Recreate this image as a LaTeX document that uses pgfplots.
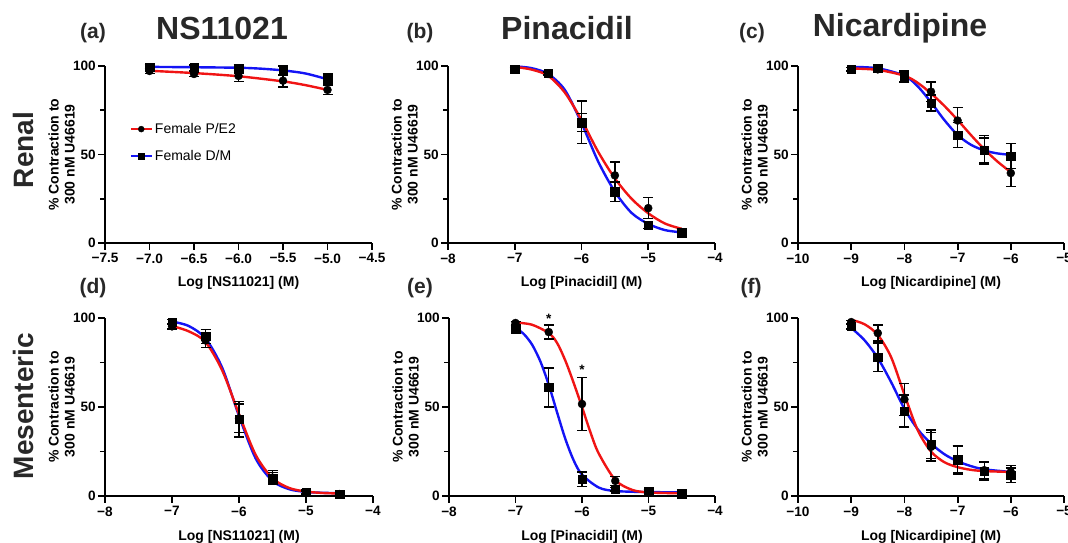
\documentclass[border=0pt]{standalone}
\usepackage{fontspec}
\setmainfont{Liberation Sans}
\usepackage{pgfplots}
\pgfplotsset{compat=1.18}

\definecolor{fitred}{RGB}{240,20,20}
\definecolor{fitblue}{RGB}{20,20,245}
\definecolor{ttl}{RGB}{40,40,40}

\newcommand{\tickfont}{\fontsize{13.6}{15}\selectfont\bfseries}
\newcommand{\labfont}{\fontsize{14}{16}\selectfont\bfseries}

\pgfplotsset{
  prism/.style={
    scale only axis, anchor=south west, clip=false,
    axis lines*=left,
    axis line style={line width=1.8pt},
    every tick/.style={black, line width=1.8pt},
    tick align=outside, major tick length=7pt, minor tick length=5pt,
    ymin=0, ymax=100, ytick={0,50,100}, minor ytick={25,75},
    yticklabels={0,50,100},
    ticklabel style={font=\tickfont},
    yticklabel style={inner sep=2pt},
    ylabel={\% Contraction to\\300 nM U46619},
    ylabel style={font=\labfont, align=center,
      at={(axis description cs:-0.1,0.5)}, anchor=south},
    xlabel style={font=\labfont, at={(axis description cs:0.5,-0.228)}, anchor=center},
  },
  redc/.style={forget plot, smooth, no marks, line width=2.4pt, color=fitred},
  bluec/.style={forget plot, smooth, no marks, line width=2.4pt, color=fitblue},
  circ/.style={forget plot, only marks, black, mark=*, mark size=4pt,
    error bars/.cd, y dir=both, y explicit,
    error bar style={line width=1.4pt, black},
    error mark options={rotate=90, black, mark size=5pt, line width=1.4pt}},
  sqr/.style={forget plot, only marks, black, mark=square*, mark size=4.2pt,
    error bars/.cd, y dir=both, y explicit,
    error bar style={line width=1.4pt, black},
    error mark options={rotate=90, black, mark size=5pt, line width=1.4pt}},
}

\begin{document}
\begin{tikzpicture}
\path[use as bounding box] (0pt,0pt) rectangle (1068pt,543pt);

% ---- titles and row labels
\node[font=\fontsize{21}{24}\selectfont\bfseries, text=ttl] at (93pt,510pt) {(a)};
\node[font=\fontsize{32}{36}\selectfont\bfseries, text=ttl] at (222pt,515pt) {NS11021};
\node[font=\fontsize{21}{24}\selectfont\bfseries, text=ttl] at (420pt,510pt) {(b)};
\node[font=\fontsize{32}{36}\selectfont\bfseries, text=ttl] at (567pt,515pt) {Pinacidil};
\node[font=\fontsize{21}{24}\selectfont\bfseries, text=ttl] at (752pt,510pt) {(c)};
\node[font=\fontsize{32}{36}\selectfont\bfseries, text=ttl] at (900pt,515pt) {Nicardipine};
\node[font=\fontsize{21}{24}\selectfont\bfseries, text=ttl] at (93pt,255pt) {(d)};
\node[font=\fontsize{21}{24}\selectfont\bfseries, text=ttl] at (420pt,255pt) {(e)};
\node[font=\fontsize{21}{24}\selectfont\bfseries, text=ttl] at (751pt,255pt) {(f)};
\node[rotate=90, font=\fontsize{28}{32}\selectfont\bfseries, text=ttl] at (23pt,393pt) {Renal};
\node[rotate=90, font=\fontsize{28}{32}\selectfont\bfseries, text=ttl] at (23pt,137pt) {Mesenteric};

% ---- (a) Renal, NS11021
\begin{axis}[prism, at={(105pt,300pt)}, width=267pt, height=177pt,
  xmin=-7.5, xmax=-4.5, xtick={-7.5,-7,-6.5,-6,-5.5,-5,-4.5},
  xticklabels={−7.5,−7.0,−6.5,−6.0,−5.5,−5.0,−4.5},
  xlabel={Log [NS11021] (M)},
  legend style={at={(axis description cs:0.08,0.70)}, anchor=north west,
    draw=none, fill=none, font=\fontsize{14}{16}\selectfont, row sep=11pt,
    cells={anchor=west}},
  legend image code/.code={\draw[mark repeat=2,mark phase=2,#1]
    plot coordinates {(0pt,0pt) (10.5pt,0pt) (21pt,0pt)};}]
\addlegendimage{fitred, line width=2.4pt, mark=*, mark options={black, fill=black, line width=0.4pt, mark size=3pt}}
\addlegendentry{Female P/E2}
\addlegendimage{fitblue, line width=2.4pt, mark=square*, mark options={black, fill=black, line width=0.4pt, mark size=3pt}}
\addlegendentry{Female D/M}
\addplot[bluec] coordinates {(-7,99.5) (-6.5,99.3) (-6,99) (-5.75,98.5) (-5.5,97.5) (-5.25,95.8) (-5,92.5)};
\addplot[redc] coordinates {(-7,97.3) (-6.5,96) (-6,94.2) (-5.5,91.3) (-5.25,89.2) (-5,86.5)};
\addplot[sqr] coordinates {(-7,99.4) +- (0,1.5) (-6.5,99.1) +- (0,1.5) (-6,98.5) +- (0,2) (-5.5,97.4) +- (0,2.5) (-5,92.5) +- (0,3)};
\addplot[circ] coordinates {(-7,97.2) +- (0,1.5) (-6.5,95.5) +- (0,1.5) (-6,94.4) +- (0,3) (-5.5,91.7) +- (0,3.5) (-5,86.5) +- (0,2.5)};
\end{axis}

% ---- (b) Renal, Pinacidil
\begin{axis}[prism, at={(448pt,300pt)}, width=267pt, height=177pt,
  xmin=-8, xmax=-4, xtick={-8,-7,-6,-5,-4},
  xticklabels={−8,−7,−6,−5,−4},
  xlabel={Log [Pinacidil] (M)}]
\addplot[bluec] coordinates {(-7,99.8) (-6.75,98.8) (-6.5,95.5) (-6.25,86.5) (-6,67.8) (-5.75,46) (-5.5,29) (-5.25,17) (-5,10.8) (-4.75,7.3) (-4.5,6)};
\addplot[redc] coordinates {(-7,99.5) (-6.75,98) (-6.5,94.5) (-6.25,85) (-6,69.5) (-5.75,51.5) (-5.5,36.5) (-5.25,25) (-5,16.8) (-4.75,11) (-4.5,8)};
\addplot[sqr] coordinates {(-7,98.3) +- (0,1) (-6.5,95.9) +- (0,1) (-6,68) +- (0,5) (-5.5,29) +- (0,5.5) (-5,10.2) +- (0,2) (-4.5,5.6) +- (0,2)};
\addplot[circ] coordinates {(-7,98.1) +- (0,1) (-6.5,95.5) +- (0,1) (-6,68.2) +- (0,12) (-5.5,38.2) +- (0,7.5) (-5,19.7) +- (0,6) (-4.5,6.2) +- (0,2)};
\end{axis}

% ---- (c) Renal, Nicardipine
\begin{axis}[prism, at={(798pt,300pt)}, width=266pt, height=177pt,
  xmin=-10, xmax=-5, xtick={-10,-9,-8,-7,-6,-5},
  xticklabels={−10,−9,−8,−7,−6,−5},
  xlabel={Log [Nicardipine] (M)}]
\addplot[bluec] coordinates {(-9,99.5) (-8.5,98.7) (-8,94.5) (-7.75,88.5) (-7.5,79.5) (-7.25,69.5) (-7,61) (-6.75,55.5) (-6.5,52.3) (-6.25,50.6) (-6,49.8)};
\addplot[redc] coordinates {(-9,98.6) (-8.5,97.8) (-8,94.5) (-7.75,90.5) (-7.5,84.5) (-7.25,77.5) (-7,69.5) (-6.75,61) (-6.5,53) (-6.25,46) (-6,40)};
\addplot[sqr] coordinates {(-9,98.3) +- (0,1) (-8.5,98.7) +- (0,1) (-8,94.4) +- (0,3) (-7.5,79) +- (0,4.5) (-7,61) +- (0,7) (-6.5,52.3) +- (0,7) (-6,49.2) +- (0,7)};
\addplot[circ] coordinates {(-9,98.1) +- (0,1) (-8.5,98.1) +- (0,1.5) (-8,93.6) +- (0,3) (-7.5,85.5) +- (0,5.5) (-7,69.2) +- (0,7.5) (-6.5,52.6) +- (0,8) (-6,39.5) +- (0,7.5)};
\end{axis}

% ---- (d) Mesenteric, NS11021
\begin{axis}[prism, at={(105pt,47pt)}, width=268pt, height=178pt,
  xmin=-8, xmax=-4, xtick={-8,-7,-6,-5,-4},
  xticklabels={−8,−7,−6,−5,−4},
  xlabel={Log [NS11021] (M)}]
\addplot[bluec] coordinates {(-7,98) (-6.75,95.5) (-6.5,88.5) (-6.25,72) (-6,45) (-5.75,21) (-5.5,8.5) (-5.25,3.8) (-5,2.3) (-4.75,1.8) (-4.5,1.6)};
\addplot[redc] coordinates {(-7,95.5) (-6.75,92.5) (-6.5,86.5) (-6.25,70.5) (-6,46) (-5.75,23) (-5.5,10) (-5.25,4.5) (-5,2.5) (-4.75,1.7) (-4.5,1.4)};
\addplot[sqr] coordinates {(-7,97.7) +- (0,1.5) (-6.5,89.7) +- (0,4) (-6,43.2) +- (0,10) (-5.5,9.8) +- (0,3.5) (-5,2.3) +- (0,1) (-4.5,1.1) +- (0,1)};
\addplot[circ] coordinates {(-7,95.3) +- (0,1.5) (-6.5,87.4) +- (0,4) (-6,43.6) +- (0,8) (-5.5,10.3) +- (0,4) (-5,1.9) +- (0,1) (-4.5,1.1) +- (0,1)};
\end{axis}

% ---- (e) Mesenteric, Pinacidil
\begin{axis}[prism, at={(449pt,47pt)}, width=266pt, height=178pt,
  xmin=-8, xmax=-4, xtick={-8,-7,-6,-5,-4},
  xticklabels={−8,−7,−6,−5,−4},
  xlabel={Log [Pinacidil] (M)}]
\addplot[bluec] coordinates {(-7,94.5) (-6.875,91) (-6.75,85) (-6.625,75.5) (-6.5,62.5) (-6.375,47) (-6.25,32) (-6.125,20) (-6,12) (-5.75,4.8) (-5.5,2.8) (-5,2.2) (-4.5,2.1)};
\addplot[redc] coordinates {(-7,97.5) (-6.75,96.2) (-6.5,91.5) (-6.375,86) (-6.25,76) (-6.125,63.5) (-6,50) (-5.875,36) (-5.75,24) (-5.5,9) (-5.25,3.5) (-5,2) (-4.5,1.5)};
\addplot[sqr] coordinates {(-7,94) +- (0,1.5) (-6.5,61) +- (0,11) (-6,9.4) +- (0,4) (-5.5,3.8) +- (0,1) (-5,2.6) +- (0,1) (-4.5,1.3) +- (0,1)};
\addplot[circ] coordinates {(-7,97.2) +- (0,1) (-6.5,92.1) +- (0,4) (-6,51.7) +- (0,15) (-5.5,8.5) +- (0,2.5) (-5,2.3) +- (0,1) (-4.5,1) +- (0,1)};
\node[font=\tickfont, anchor=base] at (axis cs:-6.5,97) {*};
\node[font=\tickfont, anchor=base] at (axis cs:-6,68) {*};
\end{axis}

% ---- (f) Mesenteric, Nicardipine
\begin{axis}[prism, at={(798pt,47pt)}, width=266pt, height=178pt,
  xmin=-10, xmax=-5, xtick={-10,-9,-8,-7,-6,-5},
  xticklabels={−10,−9,−8,−7,−6,−5},
  xlabel={Log [Nicardipine] (M)}]
\addplot[bluec] coordinates {(-9,94.5) (-8.75,87.5) (-8.5,77.5) (-8.25,64) (-8,49) (-7.75,37.5) (-7.5,29.5) (-7.25,23.5) (-7,19.5) (-6.75,16.8) (-6.5,15) (-6,13.5)};
\addplot[redc] coordinates {(-9,99) (-8.75,96.5) (-8.5,90.5) (-8.25,78) (-8,57) (-7.75,37) (-7.5,25) (-7.25,19) (-7,16.2) (-6.75,14.7) (-6.5,14) (-6,13.5)};
\addplot[sqr] coordinates {(-9,95.3) +- (0,1.5) (-8.5,78) +- (0,8) (-8,47.7) +- (0,9) (-7.5,29.1) +- (0,8) (-7,20.5) +- (0,7.5) (-6.5,14.1) +- (0,5) (-6,11.7) +- (0,4)};
\addplot[circ] coordinates {(-9,97.7) +- (0,1) (-8.5,91.5) +- (0,4.5) (-8,54.3) +- (0,9) (-7.5,27.6) +- (0,8) (-7,20.1) +- (0,8) (-6.5,14.5) +- (0,5) (-6,13.5) +- (0,3.5)};
\end{axis}
\end{tikzpicture}
\end{document}
